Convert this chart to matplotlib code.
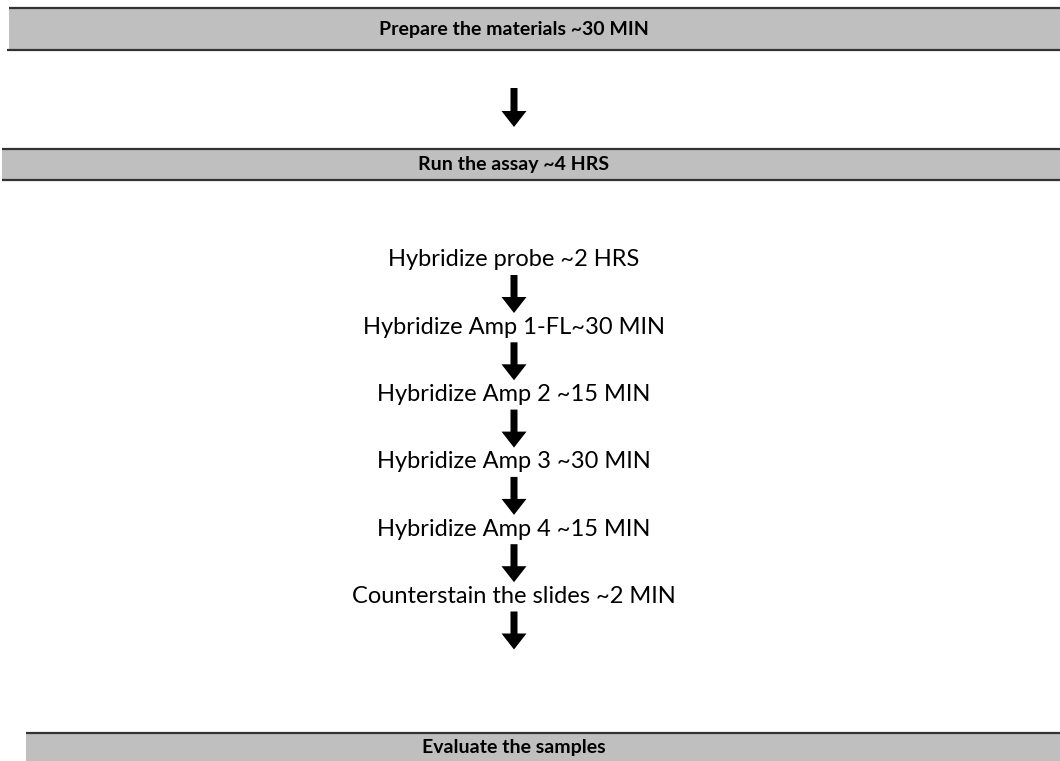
import matplotlib.pyplot as plt
from matplotlib.patches import Rectangle, FancyArrow

# Flowchart content
headers = ['Prepare the materials ~30 MIN', 'Run the assay ~4 HRS', 'Evaluate the samples']
steps = ['Hybridize probe ~2 HRS',
         'Hybridize Amp 1-FL~30 MIN',
         'Hybridize Amp 2 ~15 MIN',
         'Hybridize Amp 3 ~30 MIN',
         'Hybridize Amp 4 ~15 MIN',
         'Counterstain the slides ~2 MIN']

W, H = 1060, 761
fig = plt.figure(figsize=(W / 100, H / 100), dpi=100)
ax = fig.add_axes([0, 0, 1, 1])
ax.set_xlim(0, W)
ax.set_ylim(H, 0)
ax.axis('off')

GRAY = '#bfbfbf'
LINE = '#333333'
CX = 514

# header bands: (left, top, bottom, left of bottom line, draw bottom line)
bands = [(9, 8, 50, 7, True), (2, 149, 180, 2, True), (26, 733, 765, 26, False)]
for text, (x0, y0, y1, xb, bottom) in zip(headers, bands):
    ax.add_patch(Rectangle((x0, y0), W - x0, y1 - y0, facecolor=GRAY, edgecolor='none'))
    ax.plot([x0, W], [y0, y0], color=LINE, lw=1.6, solid_capstyle='butt')
    if bottom:
        ax.plot([xb, W], [y1, y1], color=LINE, lw=1.6, solid_capstyle='butt')
    yc = (y0 + y1) / 2 if bottom else 748
    ax.text(CX, yc, text, ha='center', va='center', fontsize=14,
            fontweight='bold', family='Lato', color='black')


def down_arrow(y_top, y_tip):
    ax.add_patch(FancyArrow(CX, y_top, 0, y_tip - y_top, width=7, head_width=25,
                            head_length=16, length_includes_head=True,
                            color='black', lw=0))


down_arrow(88, 127)

step_y0, step_dy = 260, 67.3
for i, s in enumerate(steps):
    y = step_y0 + i * step_dy
    ax.text(CX, y, s, ha='center', va='center', fontsize=17, family='Lato', color='black')
    down_arrow(y + 15, y + 53)

fig.savefig('out.png', dpi=100)
